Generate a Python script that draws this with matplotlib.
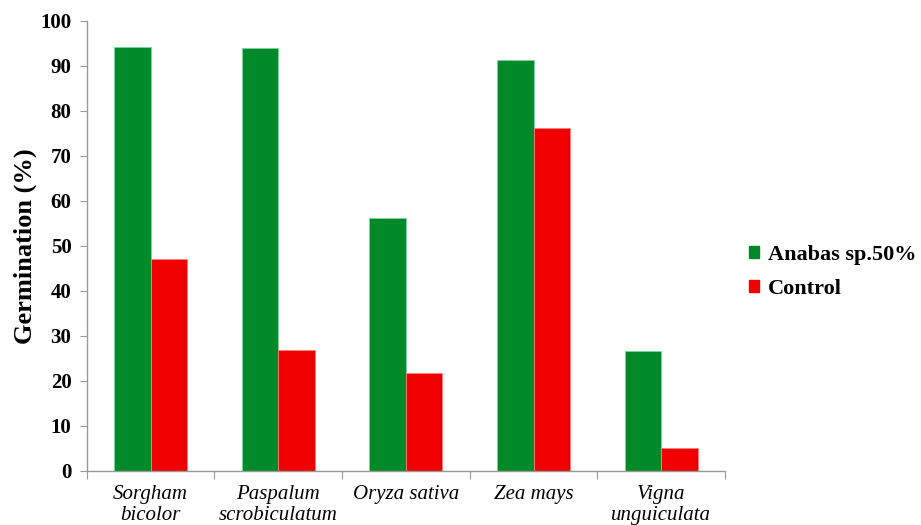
import numpy as np
import matplotlib.pyplot as plt
from matplotlib.patches import Patch

species = ["Sorgham\nbicolor", "Paspalum\nscrobiculatum", "Oryza sativa",
           "Zea mays", "Vigna\nunguiculata"]
anabas = [94.2, 94.0, 56.2, 91.3, 26.6]
control = [47.0, 26.9, 21.7, 76.1, 5.1]

green = "#008A2A"
red = "#F00000"

plt.rcParams["font.family"] = ["Liberation Serif", "DejaVu Serif"]

fig = plt.figure(figsize=(9.21, 5.25), dpi=100)
ax = fig.add_axes([0.0941, 0.1029, 0.6932, 0.8577])

x = np.arange(len(species))
w = 0.286
ax.bar(x - w / 2, anabas, w, color=green, edgecolor="#7fd3a0", linewidth=0.6)
ax.bar(x + w / 2, control, w, color=red, edgecolor="#ff8080", linewidth=0.6)

ax.set_xlim(-0.5, len(species) - 0.5)
ax.set_ylim(0, 100)
ax.set_yticks(range(0, 101, 10))
ax.set_yticklabels([str(v) for v in range(0, 101, 10)], fontsize=15, fontweight="bold")

# category boundaries carry the x ticks, names sit between them
ax.set_xticks(np.arange(-0.5, len(species), 1.0))
ax.set_xticklabels([])
ax.tick_params(axis="x", length=6, color="#999999")
ax.tick_params(axis="y", length=5, color="#999999", pad=6)
for i, name in enumerate(species):
    ax.text(i, -3.2, name, ha="center", va="top", fontsize=15, style="italic",
            linespacing=1.1, transform=ax.transData)

for side in ("top", "right"):
    ax.spines[side].set_visible(False)
for side in ("left", "bottom"):
    ax.spines[side].set_color("#999999")
    ax.spines[side].set_linewidth(1.0)

ax.set_ylabel("Germination (%)", fontsize=19, fontweight="bold")
ax.yaxis.set_label_coords(-0.078, 0.5)

handles = [Patch(color=green, label="Anabas sp.50%"), Patch(color=red, label="Control")]
fig.legend(handles=handles, loc="center left", bbox_to_anchor=(0.813, 0.482),
           frameon=False, borderpad=0, borderaxespad=0,
           handlelength=0.45, handleheight=0.45, handletextpad=0.4,
           labelspacing=0.6, prop={"size": 16, "weight": "bold"})

fig.savefig("out.png", dpi=100)
